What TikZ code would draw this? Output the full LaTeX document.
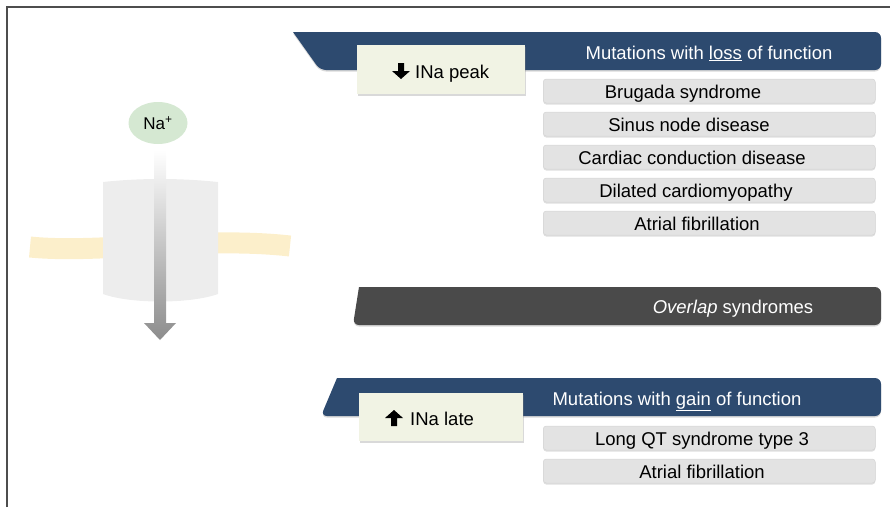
\documentclass[tikz,border=0pt]{standalone}
\usepackage{fontspec}
\setmainfont{Liberation Sans}
\usepackage{tikz}
\usetikzlibrary{shapes.geometric,shadows}
\definecolor{bannerBlue}{HTML}{2D4A6F}
\definecolor{overlapGray}{HTML}{4A4A4A}
\definecolor{itemGray}{HTML}{E3E3E3}
\definecolor{itemEdge}{HTML}{D4D4D4}
\definecolor{currentCream}{HTML}{F1F3E4}
\definecolor{ionGreen}{HTML}{D5E8D2}
\definecolor{membraneYellow}{HTML}{FCEFCB}
\definecolor{channelGray}{HTML}{EDEDED}
\definecolor{frameGray}{HTML}{4D4D4D}
\newcommand{\banner}[5]{%%
  %% A header bar: slanted on the left, rounded on the right.
  \fill[#1] (#2,#4) [rounded corners=6pt] -- (\xright,#4) -- (\xright,#5)
    -- (#3,#5) [sharp corners] -- cycle;
}
\newcommand{\diseaseItem}[5]{%%
  %% The grey box, then its text a bit left of the middle.
  \node[itemStyle,anchor=west,minimum width={\xlist-#2}] (#1) at (#2,#3) {};
  \node[itemTextStyle] (#1Text) at (#4,#3+7) {#5};
}
\newcommand{\fatArrow}[2]{%%
  %% A thick black arrow; #2 = 1 points down, -1 points up.
  \fill[shift={(#1)},yscale=#2] (-3,-8) -- (3,-8) -- (3,0) -- (9,0)
    -- (0,8) -- (-9,0) -- (-3,0) -- cycle;
}

\begin{document}
\begin{tikzpicture}[x=1pt,y=-1pt,%%
  frameStyle/.style={draw=frameGray,line width=1.6pt},%%
  bannerStyle/.style={fill=bannerBlue,drop shadow={shadow xshift=0pt,shadow yshift=-1.5pt,opacity=0.3}},%%
  overlapStyle/.style={fill=overlapGray,drop shadow={shadow xshift=0pt,shadow yshift=-1.5pt,opacity=0.3}},%%
  bannerTextStyle/.style={text=white,anchor=base,inner sep=0pt,font=\fontsize{18.5}{22}\selectfont},%%
  itemStyle/.style={fill=itemGray,draw=itemEdge,line width=0.5pt,rounded corners=3pt,%%
    minimum height=24pt,inner sep=0pt,%%
    drop shadow={shadow xshift=0pt,shadow yshift=-1.5pt,opacity=0.25}},%%
  itemTextStyle/.style={anchor=base,inner sep=0pt,font=\fontsize{18.5}{22}\selectfont},%%
  currentStyle/.style={fill=currentCream,inner sep=0pt,anchor=north west,%%
    drop shadow={shadow xshift=0.5pt,shadow yshift=-1.5pt,opacity=0.3}},%%
  currentTextStyle/.style={anchor=base west,inner sep=0pt,font=\fontsize{18.5}{22}\selectfont},%%
  ionStyle/.style={ellipse,fill=ionGreen,minimum width=59pt,minimum height=42pt,inner sep=0pt,%%
    font=\fontsize{17}{20}\selectfont}%%
]
\useasboundingbox (0,0) rectangle (890,507);
%%
%% Right edges of the bars and of the lists.
\pgfmathsetmacro{\xright}{881}
\pgfmathsetmacro{\xlist}{875}
%%
%% The frame on the top and left.
\draw[frameStyle] (7,507) -- (7,7) -- (890,7);
%%
%%
%% The membrane with the channel in it.
\draw[membraneYellow,line width=21pt] (30,247) .. controls (100,254) and (200,236) .. (290,246);
\fill[channelGray] (103,182) .. controls (140,178) and (180,178) .. (218,182)
  -- (218,294) .. controls (190,304) and (130,304) .. (103,294) -- cycle;
%%
%% The sodium ion and its way through the channel.
\node[ionStyle] (na) at (158,123) {Na\textsuperscript{+}};
\coordinate (flowStart) at (160,150);
\coordinate (flowEnd) at (160,340);
\shade[top color=white,bottom color=black!45]
  ([xshift=-6pt]flowStart) -- ([xshift=6pt]flowStart) -- (166,323) -- (176,323)
  -- (flowEnd) -- (144,323) -- (154,323) -- cycle;
%%
%%
%% Loss of function.
\banner{bannerStyle}{293}{320}{32}{70}
\node[bannerTextStyle] (lossTitle) at (709,59) {Mutations with \underline{loss} of function};
\node[currentStyle,minimum width=168pt,minimum height=49pt] (peak) at (357,45) {};
\node[currentTextStyle] (peakText) at (415,78) {INa peak};
\fatArrow{[xshift=-14pt,yshift=7pt]peakText.base west}{1}
\diseaseItem{brugada}{543}{91}{683}{Brugada syndrome}
\diseaseItem{sinus}{543}{124}{689}{Sinus node disease}
\diseaseItem{conduction}{543}{157}{692}{Cardiac conduction disease}
\diseaseItem{dilated}{543}{190}{696}{Dilated cardiomyopathy}
\diseaseItem{fibrillationLoss}{543}{223}{697}{Atrial fibrillation}
%%
%% Overlap of both.
\banner{overlapStyle}{359}{353}{287}{325}
\node[bannerTextStyle] (overlap) at (733,313) {\textit{Overlap} syndromes};
%%
%% Gain of function.
\banner{bannerStyle}{337}{321}{378}{416}
\node[bannerTextStyle] (gainTitle) at (677,405) {Mutations with \underline{gain} of function};
\node[currentStyle,minimum width=164pt,minimum height=48pt] (late) at (359,393) {};
\node[currentTextStyle] (lateText) at (410,425) {INa late};
\fatArrow{[xshift=-16pt,yshift=7pt]lateText.base west}{-1}
\diseaseItem{longQT}{543}{438}{702}{Long QT syndrome type 3}
\diseaseItem{fibrillationGain}{543}{471}{702}{Atrial fibrillation}
\end{tikzpicture}
\end{document}
